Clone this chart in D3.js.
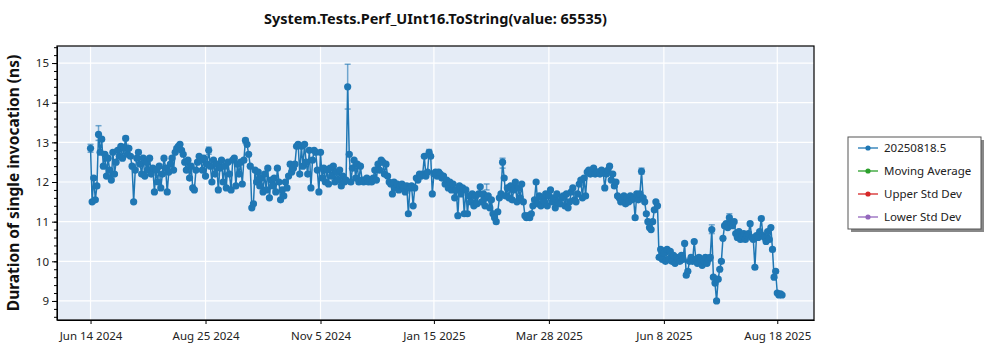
<!DOCTYPE html>
<html>
<head>
<meta charset="utf-8">
<script src="https://cdn.jsdelivr.net/npm/d3@7"></script>
<style>
  html, body { margin: 0; padding: 0; background: #fff; }
  svg { display: block; font-family: "Noto Sans", "DejaVu Sans", sans-serif; }
</style>
</head>
<body>
<svg id="chart" width="1000" height="350"></svg>
<script>
// ---------------- data ----------------
const title = "System.Tests.Perf_UInt16.ToString(value: 65535)";
const yLabel = "Duration of single invocation (ns)";
const seriesNames = ["20250818.5", "Moving Average", "Upper Std Dev", "Lower Std Dev"];
const seriesColors = ["#1f77b4", "#2ca02c", "#d62728", "#9467bd"];
const firstDate = "2024-06-14";
const dayStep = 1;
// one value per day
const values = [
  12.85, 11.5, 12.1, 11.55, 11.9, 13.2, 12.75, 13.08, 12.4, 12.7,
  12.15, 12.6, 12.3, 12.05, 12.75, 12.2, 12.5, 12.8, 12.65, 12.9,
  12.6, 12.85, 13.1, 12.7, 12.85, 12.65, 12.4, 11.5, 12.3, 12.6,
  12.75, 12.45, 12.2, 12.6, 12.15, 12.5, 12.3, 12.6, 12.2, 12.35,
  11.75, 12.3, 12.0, 12.4, 11.85, 12.2, 12.6, 12.35, 11.75, 12.25,
  12.45, 12.6, 12.3, 12.75, 12.85, 12.9, 12.95, 12.8, 12.7, 12.5,
  12.3, 12.55, 12.1, 12.4, 11.85, 11.8, 12.3, 12.5, 12.65, 12.55,
  12.3, 12.6, 12.15, 12.45, 12.8, 12.4, 12.0, 12.55, 12.2, 12.45,
  11.8, 12.35, 12.55, 12.0, 12.4, 11.85, 12.5, 12.2, 11.8, 12.55,
  12.6, 11.9, 12.45, 12.2, 12.5, 11.95, 12.55, 13.05, 12.95, 12.7,
  12.4, 11.35, 11.45, 12.3, 12.0, 12.25, 11.9, 12.1, 11.75, 12.2,
  11.8, 12.35, 11.6, 12.05, 11.9, 12.1, 11.75, 12.35, 12.0, 11.55,
  11.8, 11.65, 12.0, 11.85, 12.15, 12.45, 12.25, 12.35, 12.45, 12.9,
  12.95, 12.2, 12.9, 12.4, 12.95, 12.5, 12.2, 12.8, 11.85, 12.55,
  12.8, 12.75, 12.3, 11.75, 12.75, 12.1, 12.35, 12.0, 12.3, 11.95,
  12.35, 12.15, 12.4, 12.0, 12.25, 12.05, 12.3, 11.9, 12.15, 12.0,
  12.05, 14.4, 12.7, 12.0, 12.35, 12.55, 12.1, 12.45, 12.0, 12.4,
  12.05, 12.0, 12.05, 12.1, 12.0, 12.05, 12.0, 12.1, 12.3, 12.05,
  12.45, 12.3, 12.55, 12.5, 12.2, 12.45, 12.15, 12.0, 11.95, 11.7,
  12.0, 11.85, 11.95, 11.8, 11.9, 11.95, 11.85, 11.75, 11.9, 11.2,
  11.85, 11.9, 11.4, 11.85, 12.1, 12.05, 12.2, 12.15, 12.2, 12.65,
  12.15, 12.25, 12.75, 12.65, 11.7, 12.2, 12.25, 12.15, 12.25, 12.2,
  12.1, 12.15, 11.95, 12.05, 11.85, 12.0, 11.8, 11.95, 11.6, 11.8,
  11.15, 11.9, 11.7, 11.85, 11.2, 11.8, 11.2, 11.65, 11.5, 11.7,
  11.4, 11.65, 11.45, 11.7, 11.88, 11.5, 11.7, 11.4, 11.6, 11.65,
  11.35, 11.55, 11.2, 11.1, 11.0, 11.25, 11.6, 11.7, 12.5, 12.1,
  11.65, 11.85, 11.6, 11.9, 11.55, 11.8, 12.0, 11.5, 11.85, 11.6,
  11.95, 11.5, 11.15, 11.1, 11.15, 11.1, 11.2, 11.4, 11.55, 12.0,
  11.45, 11.65, 11.4, 11.6, 11.5, 11.7, 11.4, 11.65, 11.8, 11.5,
  11.6, 11.35, 11.7, 11.5, 11.45, 11.6, 11.65, 11.4, 11.7, 11.35,
  11.5, 11.75, 11.85, 11.55, 11.5, 11.7, 11.95, 12.05, 11.6, 12.1,
  11.65, 12.25, 12.3, 12.2, 12.25, 12.35, 12.2, 12.25, 12.25, 12.2,
  12.3, 12.25, 11.85, 12.2, 12.3, 12.4, 12.05, 12.2, 11.9, 12.0,
  11.65, 11.6, 11.5, 11.55, 11.65, 11.45, 11.6, 11.5, 11.65, 11.55,
  11.6, 11.1, 11.7, 11.55, 11.7, 12.27, 11.6, 11.5, 11.2, 11.0,
  10.85, 10.8, 11.0, 11.3, 11.5, 11.4, 10.1, 10.3, 10.05, 10.2,
  10.0, 10.3, 10.05, 10.25, 10.0, 10.15, 9.95, 10.1, 10.05, 10.0,
  10.15, 10.05, 10.45, 9.65, 9.75, 10.0, 10.1, 10.0, 10.5, 10.05,
  9.95, 10.1, 10.05, 9.9, 10.0, 10.1, 9.95, 10.05, 10.1, 10.8,
  9.6, 9.45, 9.0, 9.55, 9.8, 10.0, 10.58, 10.9, 10.95, 10.85,
  11.1, 10.95, 10.9, 11.0, 10.7, 10.6, 10.75, 10.55, 10.65, 10.7,
  10.55, 10.65, 10.7, 10.95, 10.6, 10.55, 9.85, 10.65, 10.6, 10.75,
  11.08, 10.65, 10.6, 10.5, 10.75, 10.55, 10.85, 10.3, 9.6, 9.75,
  9.2, 9.15, 9.18, 9.15
];
// notable error bars: [day index, low, high]; the others are tiny
const errorBars = [
  [0, 12.75, 12.95], [5, 13.05, 13.42], [22, 12.95, 13.15], [30, 12.7, 12.8],
  [74, 12.7, 12.88], [97, 12.98, 13.1], [161, 13.84, 14.97], [258, 12.35, 12.6],
  [345, 12.2, 12.35], [389, 10.7, 10.92], [400, 11.0, 11.2], [248, 11.8, 11.95],
  [212, 12.68, 12.82]
];
const defaultErr = 0.03;
const xTicks = ["2024-06-14", "2024-08-25", "2024-11-05", "2025-01-15", "2025-03-28", "2025-06-08", "2025-08-18"];
const yTicks = [9, 10, 11, 12, 13, 14, 15];
const xDomain = ["2024-05-24", "2025-09-10"];
const yDomain = [8.52, 15.43];

// ---------------- layout ----------------
const svg = d3.select("#chart");
const m = { left: 57, top: 46, right: 814, bottom: 320 };
const parse = d3.utcParse("%Y-%m-%d");
const x = d3.scaleUtc().domain(xDomain.map(parse)).range([m.left, m.right]);
const y = d3.scaleLinear().domain(yDomain).range([m.bottom, m.top]);

const start = parse(firstDate);
const pts = values.map((v, i) => ({ date: d3.utcDay.offset(start, i * dayStep), v, lo: v - defaultErr, hi: v + defaultErr }));
errorBars.forEach(([i, lo, hi]) => { pts[i].lo = lo; pts[i].hi = hi; });

// background
svg.append("rect").attr("x", m.left).attr("y", m.top)
  .attr("width", m.right - m.left).attr("height", m.bottom - m.top)
  .attr("fill", "#e5ecf6");

// grid
const g = svg.append("g");
g.selectAll(".vg").data(xTicks.map(parse)).join("line")
  .attr("x1", d => x(d)).attr("x2", d => x(d)).attr("y1", m.top).attr("y2", m.bottom)
  .attr("stroke", "#fff").attr("stroke-width", 1.2);
g.selectAll(".hg").data(yTicks).join("line")
  .attr("x1", m.left).attr("x2", m.right).attr("y1", d => y(d)).attr("y2", d => y(d))
  .attr("stroke", "#fff").attr("stroke-width", 1.2);

// data
const color = seriesColors[0];
const plot = svg.append("g");
const eb = plot.append("g").attr("stroke", color).attr("stroke-opacity", 0.6).attr("stroke-width", 1.5);
eb.selectAll(".e").data(pts).join("line")
  .attr("x1", d => x(d.date)).attr("x2", d => x(d.date))
  .attr("y1", d => y(d.lo)).attr("y2", d => y(d.hi));
eb.selectAll(".c1").data(pts).join("line")
  .attr("x1", d => x(d.date) - 3).attr("x2", d => x(d.date) + 3)
  .attr("y1", d => y(d.lo)).attr("y2", d => y(d.lo));
eb.selectAll(".c2").data(pts).join("line")
  .attr("x1", d => x(d.date) - 3).attr("x2", d => x(d.date) + 3)
  .attr("y1", d => y(d.hi)).attr("y2", d => y(d.hi));

plot.append("path").datum(pts)
  .attr("fill", "none").attr("stroke", color).attr("stroke-width", 1.5)
  .attr("d", d3.line().x(d => x(d.date)).y(d => y(d.v)));
plot.selectAll("circle").data(pts).join("circle")
  .attr("cx", d => x(d.date)).attr("cy", d => y(d.v)).attr("r", 3.6)
  .attr("fill", color);

// frame
svg.append("rect").attr("x", m.left).attr("y", m.top)
  .attr("width", m.right - m.left).attr("height", m.bottom - m.top)
  .attr("fill", "none").attr("stroke", "#000").attr("stroke-width", 1.2);

// axes
const xAxis = svg.append("g").attr("transform", `translate(0,${m.bottom})`)
  .call(d3.axisBottom(x).tickValues(xTicks.map(parse)).tickFormat(d3.utcFormat("%b %-d %Y")).tickSize(4).tickSizeOuter(0));
const yAxis = svg.append("g").attr("transform", `translate(${m.left},0)`)
  .call(d3.axisLeft(y).tickValues(yTicks).tickFormat(d3.format("d")).tickSize(5).tickSizeOuter(0));
const minor = d3.range(Math.ceil(yDomain[0] * 5), Math.floor(yDomain[1] * 5) + 1).map(k => k / 5);
svg.append("g").attr("transform", `translate(${m.left},0)`)
  .call(d3.axisLeft(y).tickValues(minor).tickFormat("").tickSize(3).tickSizeOuter(0))
  .call(a => a.select(".domain").remove());
[xAxis, yAxis].forEach(a => {
  a.select(".domain").attr("stroke", "#000");
  a.selectAll(".tick line").attr("stroke", "#000");
  a.selectAll(".tick text").attr("fill", "#222").style("font-size", "11.5px").style("font-family", '"Noto Sans", sans-serif');
});
xAxis.selectAll(".tick text").attr("dy", "1.1em");

// title
svg.append("text").attr("x", (m.left + m.right) / 2).attr("y", 24)
  .attr("text-anchor", "middle").style("font-weight", "bold").style("font-size", "14.5px")
  .attr("fill", "#111").text(title);
// y label
svg.append("text").attr("transform", `translate(19,${(m.top + m.bottom) / 2}) rotate(-90)`)
  .attr("text-anchor", "middle").style("font-weight", "bold").style("font-size", "15.5px")
  .attr("fill", "#111").text(yLabel);

// legend
const lg = svg.append("g").attr("transform", "translate(848,137)");
lg.append("rect").attr("x", 3).attr("y", 3).attr("width", 133).attr("height", 92).attr("fill", "#888");
lg.append("rect").attr("x", 0).attr("y", 0).attr("width", 133).attr("height", 92).attr("fill", "#fff").attr("stroke", "#555");
seriesNames.forEach((name, i) => {
  const row = lg.append("g").attr("transform", `translate(0,${11 + i * 23})`);
  row.append("line").attr("x1", 10).attr("x2", 30).attr("stroke", seriesColors[i]).attr("stroke-width", 1.3);
  row.append("circle").attr("cx", 20).attr("r", 2.6).attr("fill", seriesColors[i]);
  row.append("text").attr("x", 36).attr("dy", "0.35em").style("font-size", "11.5px").attr("fill", "#222").text(name);
});
</script>
</body>
</html>
